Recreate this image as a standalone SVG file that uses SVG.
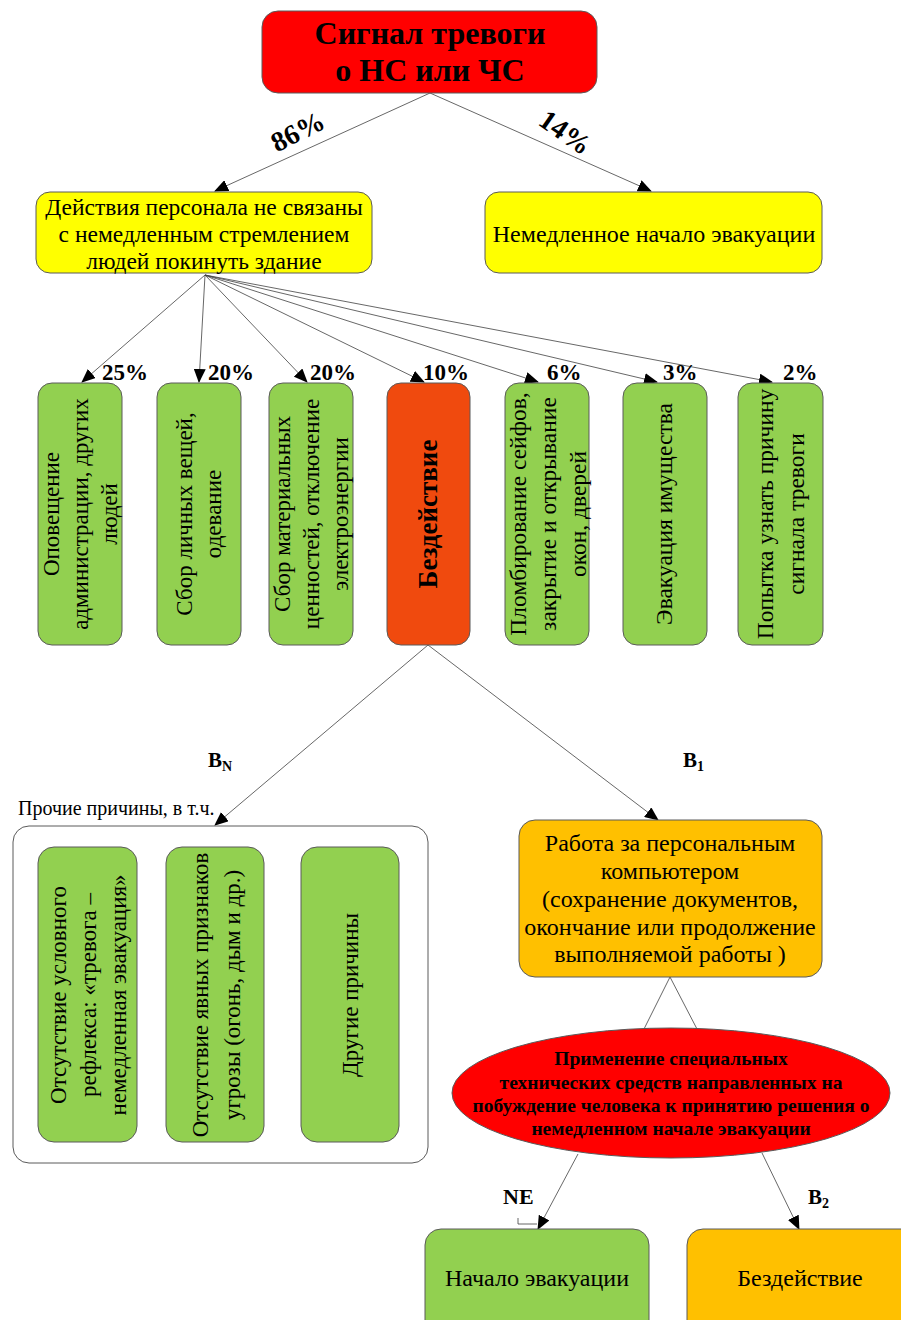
<svg xmlns="http://www.w3.org/2000/svg" width="901" height="1320" viewBox="0 0 901 1320">
<style>
.t{font-family:"Liberation Serif","Times New Roman",serif;fill:#000}
.b{font-weight:bold}
.box{stroke:#5a5a5a;stroke-width:1}
.green{fill:#92d050}
.yellow{fill:#ffff00}
.orange{fill:#ffc000}
.red{fill:#ff0000}
.con{stroke:#404040;stroke-width:0.8;fill:none}
.pct{font-family:"Liberation Serif","Times New Roman",serif;font-weight:bold;font-size:23px}
</style>
<defs>
<marker id="ah" markerWidth="14" markerHeight="12" refX="13" refY="6" orient="auto" markerUnits="userSpaceOnUse">
<path d="M0,0 L14,6 L0,12 z" fill="#000"/>
</marker>
</defs>
<rect width="901" height="1320" fill="#fff"/>

<g id="connectors">
<line class="con" x1="430" y1="93" x2="215" y2="191" marker-end="url(#ah)"/>
<line class="con" x1="430" y1="93" x2="651" y2="191" marker-end="url(#ah)"/>
<line class="con" x1="205" y1="275" x2="82" y2="382" marker-end="url(#ah)"/>
<line class="con" x1="205" y1="275" x2="199" y2="382" marker-end="url(#ah)"/>
<line class="con" x1="205" y1="275" x2="307" y2="382" marker-end="url(#ah)"/>
<line class="con" x1="205" y1="275" x2="424" y2="382" marker-end="url(#ah)"/>
<line class="con" x1="205" y1="275" x2="538" y2="382" marker-end="url(#ah)"/>
<line class="con" x1="205" y1="275" x2="657" y2="382" marker-end="url(#ah)"/>
<line class="con" x1="205" y1="275" x2="772" y2="382" marker-end="url(#ah)"/>
<line class="con" x1="428" y1="645" x2="215" y2="825" marker-end="url(#ah)"/>
<line class="con" x1="428" y1="645" x2="658" y2="820" marker-end="url(#ah)"/>
<line class="con" x1="670" y1="977" x2="644" y2="1029"/>
<line class="con" x1="670" y1="977" x2="697" y2="1029"/>
<line class="con" x1="578" y1="1154" x2="538" y2="1229" marker-end="url(#ah)"/>
<line class="con" x1="762" y1="1153" x2="799" y2="1229" marker-end="url(#ah)"/>
<path class="con" d="M518,1218 L518,1224 L537,1224"/>
<text class="t b" font-size="28" transform="translate(302,140) rotate(-27)" text-anchor="middle">86%</text>
<text class="t b" font-size="28" transform="translate(560,140) rotate(35)" text-anchor="middle">14%</text>
<text class="pct" x="102" y="380">25%</text>
<text class="pct" x="208" y="380">20%</text>
<text class="pct" x="310" y="380">20%</text>
<text class="pct" x="423" y="380">10%</text>
<text class="pct" x="547" y="380">6%</text>
<text class="pct" x="663" y="380">3%</text>
<text class="pct" x="783" y="380">2%</text>
<text class="t b" font-size="21" x="208" y="767">B<tspan font-size="14" dy="4">N</tspan></text>
<text class="t b" font-size="21" x="683" y="767">B<tspan font-size="14" dy="4">1</tspan></text>
<text class="t b" font-size="22" x="503" y="1204">NE</text>
<text class="t b" font-size="21" x="808" y="1204">B<tspan font-size="14" dy="4">2</tspan></text>
</g>

<g id="signal">
<rect class="box red" x="262" y="11" width="335" height="82" rx="16"/>
<text class="t b" font-size="32" text-anchor="middle" x="430" y="44">Сигнал тревоги</text>
<text class="t b" font-size="32" text-anchor="middle" x="430" y="81">о НС или ЧС</text>
</g>

<g id="staff-actions">
<rect class="box yellow" x="36" y="192" width="336" height="81" rx="14"/>
<text class="t" font-size="23.5" text-anchor="middle" x="204" y="215">Действия персонала не связаны</text>
<text class="t" font-size="23.5" text-anchor="middle" x="204" y="242">с немедленным стремлением</text>
<text class="t" font-size="23.5" text-anchor="middle" x="204" y="269">людей покинуть здание</text>
</g>

<g id="immediate-evac">
<rect class="box yellow" x="485" y="192" width="337" height="81" rx="14"/>
<text class="t" font-size="24" text-anchor="middle" x="654" y="242">Немедленное начало эвакуации</text>
</g>

<g id="notify">
<rect class="box green" x="38" y="383" width="84" height="262" rx="14"/>
<text class="t" font-size="23" text-anchor="middle" transform="translate(80,514) rotate(-90)"><tspan x="0" y="-21">Оповещение</tspan><tspan x="0" y="8">администрации, других</tspan><tspan x="0" y="37">людей</tspan></text>
</g>

<g id="personal-items">
<rect class="box green" x="157" y="383" width="84" height="262" rx="14"/>
<text class="t" font-size="23" text-anchor="middle" transform="translate(199,514) rotate(-90)"><tspan x="0" y="-7">Сбор личных вещей,</tspan><tspan x="0" y="22">одевание</tspan></text>
</g>

<g id="valuables">
<rect class="box green" x="269" y="383" width="84" height="262" rx="14"/>
<text class="t" font-size="23" text-anchor="middle" transform="translate(311,514) rotate(-90)"><tspan x="0" y="-21">Сбор материальных</tspan><tspan x="0" y="8">ценностей, отключение</tspan><tspan x="0" y="37">электроэнергии</tspan></text>
</g>

<g id="inaction">
<rect class="box" fill="#f04a0e" x="387" y="383" width="83" height="262" rx="14"/>
<text class="t b" font-size="27" text-anchor="middle" transform="translate(428,514) rotate(-90)"><tspan x="0" y="9">Бездействие</tspan></text>
</g>

<g id="seal-safes">
<rect class="box green" x="505" y="383" width="84" height="262" rx="14"/>
<text class="t" font-size="23.5" text-anchor="middle" transform="translate(548,514) rotate(-90)"><tspan x="0" y="-22">Пломбирование сейфов,</tspan><tspan x="0" y="8">закрытие и открывание</tspan><tspan x="0" y="38">окон, дверей</tspan></text>
</g>

<g id="property-evac">
<rect class="box green" x="623" y="383" width="84" height="262" rx="14"/>
<text class="t" font-size="23.5" text-anchor="middle" transform="translate(665,514) rotate(-90)"><tspan x="0" y="7">Эвакуация имущества</tspan></text>
</g>

<g id="find-cause">
<rect class="box green" x="738" y="383" width="85" height="262" rx="14"/>
<text class="t" font-size="23.5" text-anchor="middle" transform="translate(781,514) rotate(-90)"><tspan x="0" y="-8">Попытка узнать причину</tspan><tspan x="0" y="23">сигнала тревоги</tspan></text>
</g>

<g id="other-reasons">
<text class="t" font-size="20" x="18" y="815">Прочие причины, в т.ч.</text>
<rect x="13" y="826" width="415" height="337" rx="16" fill="#fff" stroke="#5a5a5a" stroke-width="1"/>
</g>

<g id="no-reflex">
<rect class="box green" x="38" y="847" width="99" height="295" rx="16"/>
<text class="t" font-size="23" text-anchor="middle" transform="translate(88,995) rotate(-90)"><tspan x="0" y="-22">Отсутствие условного</tspan><tspan x="0" y="8">рефлекса: «тревога –</tspan><tspan x="0" y="38">немедленная эвакуация»</tspan></text>
</g>

<g id="no-signs">
<rect class="box green" x="166" y="847" width="98" height="295" rx="16"/>
<text class="t" font-size="23" text-anchor="middle" transform="translate(216,995) rotate(-90)"><tspan x="0" y="-8">Отсутствие явных признаков</tspan><tspan x="0" y="24">угрозы (огонь, дым и др.)</tspan></text>
</g>

<g id="other">
<rect class="box green" x="301" y="847" width="98" height="295" rx="16"/>
<text class="t" font-size="23" text-anchor="middle" transform="translate(350,995) rotate(-90)"><tspan x="0" y="8">Другие причины</tspan></text>
</g>

<g id="pc-work">
<rect class="box orange" x="519" y="820" width="303" height="157" rx="16"/>
<text class="t" font-size="24" text-anchor="middle" x="670" y="851">Работа за персональным</text>
<text class="t" font-size="24" text-anchor="middle" x="670" y="879">компьютером</text>
<text class="t" font-size="24" text-anchor="middle" x="670" y="907">(сохранение документов,</text>
<text class="t" font-size="24" text-anchor="middle" x="670" y="935">окончание или продолжение</text>
<text class="t" font-size="24" text-anchor="middle" x="670" y="962">выполняемой работы )</text>
</g>

<g id="tech-means">
<ellipse cx="671" cy="1093" rx="219" ry="65" fill="#ff0000" stroke="#5a5a5a" stroke-width="1"/>
<text class="t b" font-size="19.5" text-anchor="middle" x="671" y="1065" fill="#200000">Применение специальных</text>
<text class="t b" font-size="19.5" text-anchor="middle" x="671" y="1089" fill="#200000">технических средств направленных на</text>
<text class="t b" font-size="19.5" text-anchor="middle" x="671" y="1112" fill="#200000">побуждение человека к принятию решения о</text>
<text class="t b" font-size="19.5" text-anchor="middle" x="671" y="1135" fill="#200000">немедленном начале эвакуации</text>
</g>

<g id="start-evac">
<rect class="box green" x="425" y="1229" width="224" height="110" rx="16"/>
<text class="t" font-size="24" text-anchor="middle" x="537" y="1286">Начало эвакуации</text>
</g>

<g id="inaction-2">
<rect class="box orange" x="687" y="1229" width="240" height="110" rx="16"/>
<text class="t" font-size="24" text-anchor="middle" x="800" y="1286">Бездействие</text>
</g>
</svg>
